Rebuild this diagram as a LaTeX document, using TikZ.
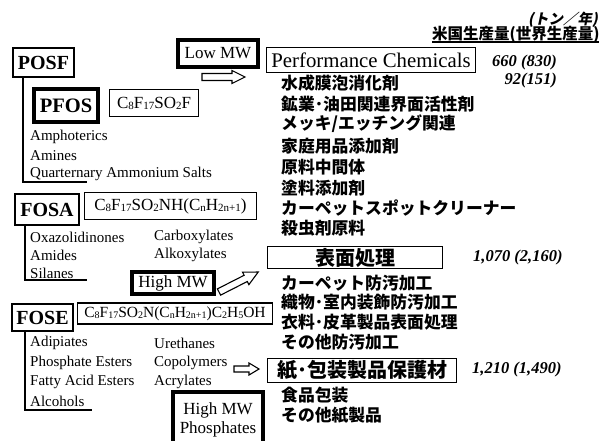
\documentclass[tikz,border=0pt]{standalone}
\usepackage{fontspec}
\setmainfont{Liberation Serif}
\newfontfamily\jp{Noto Sans CJK JP}
\newfontfamily\jpit{Noto Sans CJK JP}[FakeSlant=0.2]
\usetikzlibrary{calc}
\newcommand\sbx[1]{\raisebox{-1pt}{\fontsize{11}{11}\selectfont #1}}
\newcommand\sbxs[1]{\raisebox{-1pt}{\fontsize{10}{10}\selectfont #1}}
\begin{document}
\begin{tikzpicture}[x=1pt,y=-1pt,
  lbl/.style={font=\fontsize{15}{15}\selectfont, anchor=west, inner sep=0},
  jl/.style={font=\jp\bfseries\fontsize{16.8}{16.8}\selectfont, anchor=west, inner sep=0},
  num/.style={font=\bfseries\itshape\fontsize{16.5}{16.5}\selectfont, anchor=west, inner sep=0},
  hdbox/.style={draw, line width=2pt, inner sep=0, font=\bfseries\fontsize{20}{20}\selectfont},
  thkbox/.style={draw, line width=4pt, inner sep=0, font=\fontsize{17}{17}\selectfont},
  fbox/.style={draw, line width=1.1pt, inner sep=0, font=\fontsize{17}{17}\selectfont},
  cbox/.style={draw, line width=1.1pt, inner sep=0, font=\jp\bfseries\fontsize{20}{20}\selectfont},
  tree/.style={line width=1.2pt},
  barrow/.style={draw, fill=white, line width=1.1pt, line join=miter}
]
\useasboundingbox (0,0) rectangle (599,440);

% header
\node[font=\jpit\bfseries\fontsize{14.5}{14.5}\selectfont, anchor=east, inner sep=0] (unit) at (598,20) {(トン／年)};
\node[font=\jp\bfseries\fontsize{15.5}{15.5}\selectfont, anchor=west, inner sep=0] (hdr) at (432,34) {米国生産量(世界生産量)};
\coordinate (ulA) at (432,42);
\coordinate (ulB) at (600,42);
\draw[line width=1.1pt] (ulA) -- (ulB);

% POSF group
\node[hdbox, minimum width=61pt, minimum height=29pt] (posf) at (43.5,62.5) {POSF};
\node[thkbox, font=\bfseries\fontsize{20.5}{20.5}\selectfont, minimum width=64pt, minimum height=33pt] (pfos) at (66,105.5) {PFOS};
\node[fbox, minimum width=89pt, minimum height=27pt] (f1) at (154,103) {C\sbx{8}F\sbx{17}SO\sbx{2}F};
\node[lbl] (amph) at (30,137) {Amphoterics};
\node[lbl] (amin) at (30,156) {Amines};
\node[lbl] (quat) at (30,174) {Quarternary Ammonium Salts};
\coordinate (t1) at (87,182);
\draw[tree] ($(posf.south west)+(11,0)$) |- (t1);

% FOSA group
\node[hdbox, minimum width=64pt, minimum height=31pt] (fosa) at (47,209.5) {FOSA};
\node[fbox, minimum width=172pt, minimum height=27pt] (f2) at (170.5,206) {C\sbx{8}F\sbx{17}SO\sbx{2}NH(C\sbx{n}H\sbx{2n+1})};
\node[lbl] (oxa) at (30,237) {Oxazolidinones};
\node[lbl] (ami) at (30,255) {Amides};
\node[lbl] (sil) at (30,273) {Silanes};
\node[lbl] (carb) at (154,237) {Carboxylates};
\node[lbl] (alko) at (154,255) {Alkoxylates};
\coordinate (t2) at (87,280);
\draw[tree] ($(fosa.south west)+(11,0)$) |- (t2);

% FOSE group
\node[hdbox, minimum width=61pt, minimum height=27pt] (fose) at (42.5,317.5) {FOSE};
\node[fbox, font=\fontsize{15.5}{15.5}\selectfont, minimum width=195pt, minimum height=21pt] (f3) at (175,313.5) {C\sbxs{8}F\sbxs{17}SO\sbxs{2}N(C\sbxs{n}H\sbxs{2n+1})C\sbxs{2}H\sbxs{5}OH};
\node[lbl] (adip) at (30,343) {Adipiates};
\node[lbl] (phos) at (30,363) {Phosphate Esters};
\node[lbl] (fatty) at (30,382) {Fatty Acid Esters};
\node[lbl] (alc) at (30,401) {Alcohols};
\node[lbl] (ure) at (154,343) {Urethanes};
\node[lbl] (copo) at (154,363) {Copolymers};
\node[lbl] (acry) at (154,382) {Acrylates};
\coordinate (t3) at (92,410);
\draw[tree] ($(fose.south west)+(14,0)$) |- (t3);

% MW boxes
\node[thkbox, minimum width=80pt, minimum height=27pt] (lowmw) at (218,53.5) {Low MW};
\node[thkbox, minimum width=82pt, minimum height=22pt] (highmw) at (173,283) {High MW};
\node[thkbox, minimum width=90pt, minimum height=56pt, align=center, anchor=north] (hmwp) at (218,390) {High MW\\[2pt]Phosphates};

% block arrows (outlined)
\begin{scope}[shift={(202,77)}]
  \draw[barrow] (0,-3.5) -- (30,-3.5) -- (30,-6.5) -- (43,0) -- (30,6.5) -- (30,3.5) -- (0,3.5) -- cycle;
\end{scope}
\begin{scope}[shift={(219,292)}, rotate=27]
  \draw[barrow] (0,-3.5) -- (30,-3.5) -- (30,-7) -- (44,0) -- (30,7) -- (30,3.5) -- (0,3.5) -- cycle;
\end{scope}
\begin{scope}[shift={(234,369)}]
  \draw[barrow] (0,-3) -- (15,-3) -- (15,-6) -- (25,0) -- (15,6) -- (15,3) -- (0,3) -- cycle;
\end{scope}

% Performance chemicals
\node[fbox, font=\fontsize{20.8}{20.8}\selectfont, minimum width=209pt, minimum height=25pt] (perf) at (371,60) {Performance Chemicals};
\node[num] (n1) at (492,63) {660 (830)};
\node[num, anchor=east] (n2) at (n1.east |- 0,81) {92(151)};
\node[jl] (j1) at (281,83) {水成膜泡消化剤};
\node[jl] (j2) at (281,104) {鉱業･油田関連界面活性剤};
\node[jl] (j3) at (281,124) {メッキ/エッチング関連};
\node[jl] (j4) at (281,146) {家庭用品添加剤};
\node[jl] (j5) at (281,167) {原料中間体};
\node[jl] (j6) at (281,188) {塗料添加剤};
\node[jl] (j7) at (281,208) {カーペットスポットクリーナー};
\node[jl] (j8) at (281,228) {殺虫剤原料};

% surface treatment
\node[cbox, minimum width=175pt, minimum height=22pt] (surf) at (355,257.5) {表面処理};
\node[num] (n3) at (473,258) {1,070 (2,160)};
\node[jl] (k1) at (281,283) {カーペット防汚加工};
\node[jl] (k2) at (281,302) {織物･室内装飾防汚加工};
\node[jl] (k3) at (281,322) {衣料･皮革製品表面処理};
\node[jl] (k4) at (281,342) {その他防汚加工};

% paper
\node[cbox, minimum width=189pt, minimum height=24pt] (paper) at (362,370.5) {紙･包装製品保護材};
\node[num] (n4) at (472,370) {1,210 (1,490)};
\node[jl] (m1) at (281,395) {食品包装};
\node[jl] (m2) at (281,415) {その他紙製品};
\end{tikzpicture}
\end{document}
